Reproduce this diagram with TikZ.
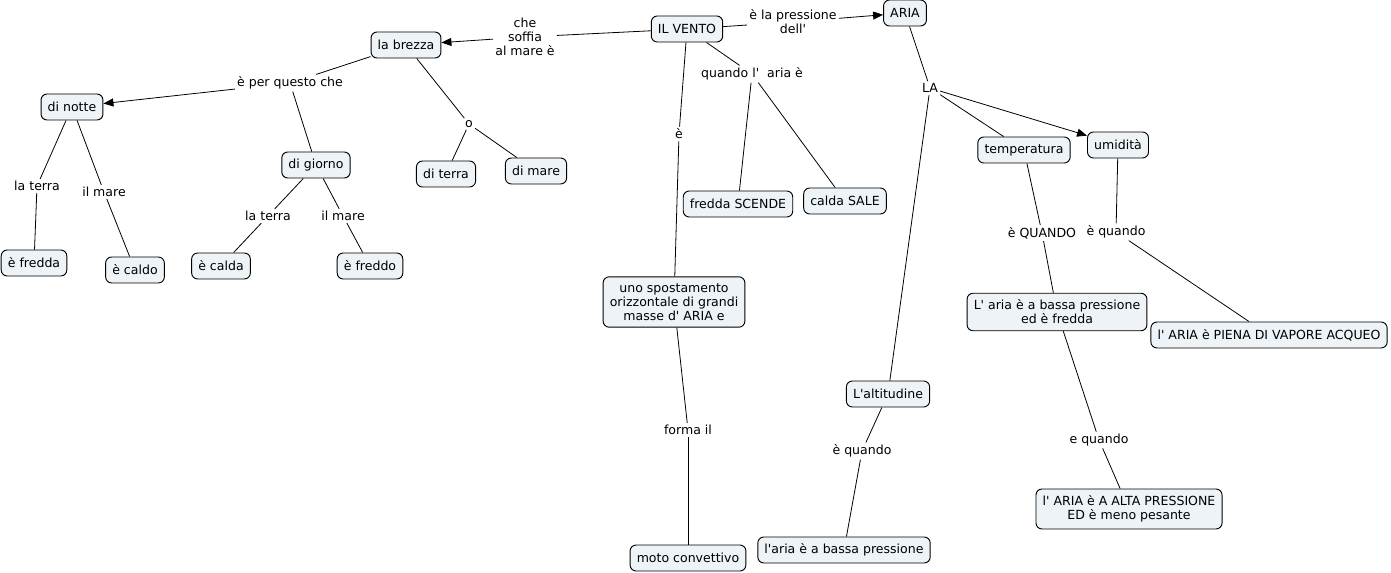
\documentclass[tikz,border=0pt]{standalone}
\usepackage{fontspec}
\setmainfont{DejaVu Sans}
\usetikzlibrary{arrows.meta}
\definecolor{cfill}{RGB}{237,243,246}
\newcommand{\ap}{\textquotesingle}
\begin{document}
\begin{tikzpicture}[x=0.75pt,y=-0.75pt,
  concept/.style={draw=black, line width=0.7pt, fill=cfill, rounded corners=4.5pt,
    inner xsep=5pt, inner ysep=5pt, minimum height=19.5pt, align=center,
    font=\fontsize{9.4}{10.5}\selectfont},
  lnk/.style={inner sep=1.5pt, align=center, font=\fontsize{9.4}{10.5}\selectfont},
  conn/.style={line width=0.6pt},
  arr/.style={conn, -{Triangle[length=7.5pt,width=6pt]}}]
\fill[white] (0,0) rectangle (1391,573);
\useasboundingbox (0,0) rectangle (1391,573);
% concepts
\node[concept] (vento) at (687,29) {IL VENTO};
\node[concept] (aria) at (905,13) {ARIA};
\node[concept] (brezza) at (406,45) {la brezza};
\node[concept] (dinotte) at (72,107) {di notte};
\node[concept] (digiorno) at (316,165) {di giorno};
\node[concept] (diterra) at (446,174) {di terra};
\node[concept] (dimare) at (536,171) {di mare};
\node[concept] (efredda) at (34,263) {è fredda};
\node[concept] (ecaldo) at (135,270) {è caldo};
\node[concept] (ecalda) at (221,266) {è calda};
\node[concept] (efreddo) at (370,266) {è freddo};
\node[concept] (fscende) at (738,204) {fredda SCENDE};
\node[concept] (csale) at (845,201) {calda SALE};
\node[concept] (sposta) at (674,302) {uno spostamento\\orizzontale di grandi\\masse d\ap{} ARIA e};
\node[concept] (moto) at (688,558) {moto convettivo};
\node[concept] (temp) at (1024,150) {temperatura};
\node[concept] (umid) at (1118,145) {umidità};
\node[concept] (bassaf) at (1057,312) {L\ap{} aria è a bassa pressione\\ed è fredda};
\node[concept] (piena) at (1269,335) {l\ap{} ARIA è PIENA DI VAPORE ACQUEO};
\node[concept] (alt) at (888,394) {L\ap{}altitudine};
\node[concept] (bassap) at (844,550) {l\ap{}aria è a bassa pressione};
\node[concept] (alta) at (1129,509) {l\ap{} ARIA è A ALTA PRESSIONE\\ED è meno pesante};
% link labels
\node[lnk] (l1) at (525,37) {che\\soffia\\al mare è};
\node[lnk] (l2) at (793,22) {è la pressione\\dell\ap{}};
\node[lnk] (l3) at (290,83) {è per questo che};
\node[lnk] (l4) at (469,124) {o};
\node[lnk] (l5) at (37,186) {la terra};
\node[lnk] (l6) at (104,192) {il mare};
\node[lnk] (l7) at (268,216) {la terra};
\node[lnk] (l8) at (343,216) {il mare};
\node[lnk] (l9) at (752,74) {quando l\ap\ \ aria è};
\node[lnk] (l10) at (679,134) {è};
\node[lnk] (l11) at (688,430) {forma il};
\node[lnk] (l12) at (930,88) {LA};
\node[lnk] (l13) at (1042,233) {è QUANDO};
\node[lnk] (l14) at (1116,232) {è quando};
\node[lnk] (l15) at (1099,440) {e quando};
\node[lnk] (l16) at (862,451) {è quando};
% connectors
\draw[conn] (vento) -- (l1);
\draw[arr] (l1) -- (brezza);
\draw[conn] (vento) -- (l2);
\draw[arr] (l2) -- (aria);
\draw[conn] (brezza) -- (l3);
\draw[arr] (l3) -- (dinotte);
\draw[conn] (l3) -- (digiorno);
\draw[conn] (brezza) -- (l4);
\draw[conn] (l4) -- (diterra);
\draw[conn] (l4) -- (dimare);
\draw[conn] (dinotte) -- (l5);
\draw[conn] (l5) -- (efredda);
\draw[conn] (dinotte) -- (l6);
\draw[conn] (l6) -- (ecaldo);
\draw[conn] (digiorno) -- (l7);
\draw[conn] (l7) -- (ecalda);
\draw[conn] (digiorno) -- (l8);
\draw[conn] (l8) -- (efreddo);
\draw[conn] (vento) -- (l9);
\draw[conn] (l9) -- (fscende);
\draw[conn] (l9) -- (csale);
\draw[conn] (vento) -- (l10);
\draw[conn] (l10) -- (sposta);
\draw[conn] (sposta) -- (l11);
\draw[conn] (l11) -- (moto);
\draw[conn] (aria) -- (l12);
\draw[conn] (l12) -- (temp);
\draw[arr] (l12) -- (umid);
\draw[conn] (l12) -- (alt);
\draw[conn] (temp) -- (l13);
\draw[conn] (l13) -- (bassaf);
\draw[conn] (umid) -- (l14);
\draw[conn] (l14) -- (piena);
\draw[conn] (bassaf) -- (l15);
\draw[conn] (l15) -- (alta);
\draw[conn] (alt) -- (l16);
\draw[conn] (l16) -- (bassap);
\end{tikzpicture}
\end{document}
